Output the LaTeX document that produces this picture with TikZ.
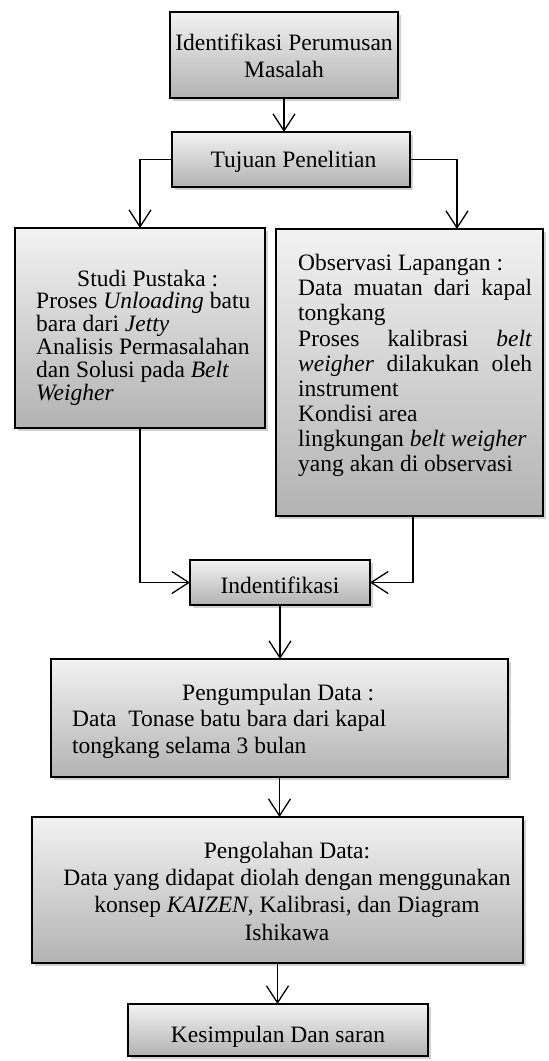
\documentclass[tikz,border=0pt]{standalone}
\usepackage{fontspec}
\setmainfont{Liberation Serif}
\usetikzlibrary{arrows.meta,shadows,calc}
\begin{document}
\begin{tikzpicture}[x=1pt,y=1pt,
  box/.style={draw=black, line width=1.8pt, inner sep=0pt, outer sep=0pt,
    top color=black!5, bottom color=black!30,
    drop shadow={shadow xshift=2.5pt, shadow yshift=-3pt, opacity=0.3, fill=black!60}},
  conn/.style={line width=1.3pt, -{Straight Barb[length=17pt,width=22pt,line width=1.3pt]}},
  txt/.style={inner sep=0pt, font=\fontsize{23.5}{27}\selectfont}]
\useasboundingbox (0,0) rectangle (549,-1061);

\node[box, minimum width=228pt, minimum height=86pt] (top) at (284,-55) {};
\node[txt, align=center, anchor=base] (toptxt) at (284,-77) {Identifikasi Perumusan\\Masalah};

\node[box, minimum width=238pt, minimum height=55pt] (tuj) at (291,-159.5) {};
\node[txt, anchor=base] (tujtxt) at (293.5,-167) {Tujuan Penelitian};

\node[box, minimum width=250pt, minimum height=200pt] (stu) at (140,-328) {};
\node[txt, align=left, anchor=base west, font=\fontsize{23.5}{22.8}\selectfont] (stutxt) at (36,-400)
  {\hspace*{41pt}Studi Pustaka :\\Proses \textit{Unloading} batu\\bara dari \textit{Jetty}\\Analisis Permasalahan\\dan Solusi pada \textit{Belt}\\\textit{Weigher}};

\node[box, minimum width=267pt, minimum height=287pt] (obs) at (409.5,-372.5) {};
\node[txt, align=left, anchor=base west, font=\fontsize{23.5}{25.1}\selectfont] (obstxt) at (298,-471.5)
  {Observasi Lapangan :\\\makebox[234pt][s]{Data muatan dari kapal}\\tongkang\\\makebox[234pt][s]{Proses kalibrasi \textit{belt}}\\\makebox[234pt][s]{\textit{weigher} dilakukan oleh}\\instrument\\Kondisi area\\lingkungan \textit{belt weigher}\\yang akan di observasi};

\node[box, minimum width=180pt, minimum height=45pt] (ide) at (280,-582.5) {};
\node[txt, anchor=base] (idetxt) at (280,-593) {Indentifikasi};

\node[box, minimum width=457pt, minimum height=118pt] (kum) at (279.5,-718) {};
\node[txt, align=left, anchor=base west, font=\fontsize{23.5}{26.5}\selectfont] (kumtxt) at (72,-753)
  {\hspace*{110pt}Pengumpulan Data :\\Data\ \ Tonase batu bara dari kapal\\tongkang selama 3 bulan};

\node[box, minimum width=491pt, minimum height=146pt] (ola) at (277.5,-890) {};
\node[txt, align=center, anchor=base, font=\fontsize{23.5}{27.3}\selectfont] (olatxt) at (287,-940)
  {Pengolahan Data:\\Data yang didapat diolah dengan menggunakan\\konsep \textit{KAIZEN}, Kalibrasi, dan Diagram\\Ishikawa};

\node[box, minimum width=300pt, minimum height=52pt] (kes) at (278,-1030) {};
\node[txt, anchor=base] (kestxt) at (278,-1042) {Kesimpulan Dan saran};

\coordinate (obsin) at (457,0);
\coordinate (obsout) at (413,0);
\draw[conn] (top.south) -- (top.south |- tuj.north);
\draw[conn] (tuj.west) -| (stu.north);
\draw[conn] (tuj.east) -| (obsin |- obs.north);
\draw[conn] (stu.south) |- (ide.west);
\draw[conn] (obsout |- obs.south) |- (ide.east);
\draw[conn] (ide.south) -- (ide.south |- kum.north);
\draw[conn] (kum.south) -- (kum.south |- ola.north);
\draw[conn] (ola.south) -- (ola.south |- kes.north);
\end{tikzpicture}
\end{document}
